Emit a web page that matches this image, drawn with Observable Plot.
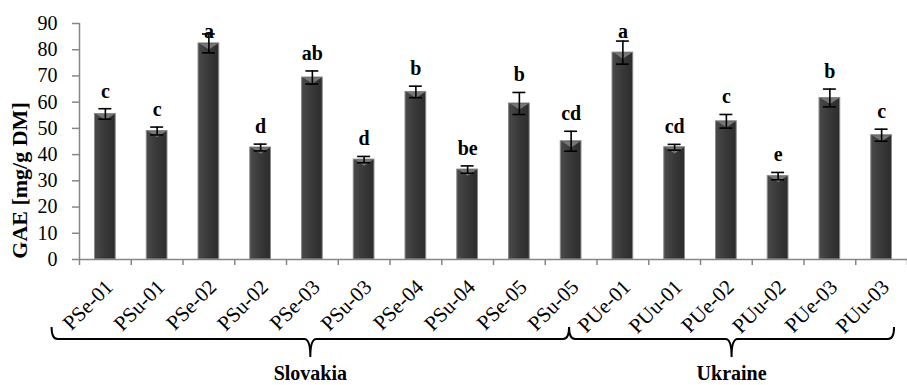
<!DOCTYPE html>
<html>
<head>
<meta charset="utf-8">
<script src="https://cdn.jsdelivr.net/npm/d3@7"></script>
<script src="https://cdn.jsdelivr.net/npm/@observablehq/plot@0.6"></script>
<style>
  html, body { margin: 0; padding: 0; background: #fff; }
  #chart { width: 907px; height: 385px; }
</style>
</head>
<body>
<div id="chart"></div>
<script>
const categories = ["PSe-01","PSu-01","PSe-02","PSu-02","PSe-03","PSu-03","PSe-04","PSu-04","PSe-05","PSu-05","PUe-01","PUu-01","PUe-02","PUu-02","PUe-03","PUu-03"];
const gae = [55.5, 49.0, 82.4, 42.7, 69.4, 38.1, 63.9, 34.3, 59.5, 45.1, 78.9, 42.8, 52.7, 31.8, 61.6, 47.4];
const sd = [2.0, 1.5, 3.6, 1.3, 2.5, 1.2, 2.2, 1.4, 4.2, 3.8, 4.4, 1.1, 2.6, 1.4, 3.4, 2.3];
const letters = ["c","c","a","d","ab","d","b","be","b","cd","a","cd","c","e","b","c"];
const groups = [
  {name: "Slovakia", from: 0, to: 9},
  {name: "Ukraine", from: 10, to: 15}
];
const yTicks = [0, 10, 20, 30, 40, 50, 60, 70, 80, 90];
const yTitle = "GAE [mg/g DM]";

const data = categories.map((c, i) => ({i, cat: c, v: gae[i], e: sd[i], letter: letters[i]}));
const idx = categories.map((_, i) => i);
const bounds = d3.range(categories.length + 1).map(i => i - 0.5);

const FONT = "'Liberation Serif', 'Times New Roman', serif";
const AXIS = "#868686";

const topSymbol = {
  draw(ctx, size) {
    const w = 2 * Math.sqrt(size / Math.PI);
    ctx.moveTo(-w / 2, 0);
    ctx.lineTo(w / 2, 0);
    ctx.lineTo(0, w * 0.33);
    ctx.closePath();
  }
};

const plot = Plot.plot({
  width: 907,
  height: 385,
  marginLeft: 79,
  marginRight: 0,
  marginTop: 23,
  marginBottom: 126,
  x: {domain: [-0.5, categories.length - 0.5], axis: null},
  y: {domain: [0, 90], axis: null},
  style: {fontFamily: FONT, background: "#fff", color: "#000", overflow: "visible"},
  marks: [
    Plot.rectY(data, {x1: d => d.i - 0.2, x2: d => d.i + 0.2, y1: 0, y2: "v", fill: "url(#barGrad)", stroke: "#8a8a8a", strokeWidth: 1}),
    Plot.dot(data, {x: "i", y: "v", symbol: topSymbol, r: 9.3, fill: "#767676", stroke: "none"}),
    Plot.ruleX(data, {x: "i", y1: d => d.v - d.e, y2: d => d.v + d.e, stroke: "#000", strokeWidth: 1.6}),
    Plot.ruleY(data, {x1: d => d.i - 0.125, x2: d => d.i + 0.125, y: d => d.v + d.e, stroke: "#000", strokeWidth: 1.6}),
    Plot.ruleY(data, {x1: d => d.i - 0.125, x2: d => d.i + 0.125, y: d => d.v - d.e, stroke: "#000", strokeWidth: 1.6}),
    Plot.text(data, {x: "i", y: d => Math.min(d.v + d.e, 80.2), text: "letter", dy: -11, lineAnchor: "bottom", fontSize: 20, fontWeight: "bold", fill: "#000"}),
    Plot.ruleY([0], {stroke: AXIS, strokeWidth: 1.5}),
    Plot.ruleX([-0.5], {stroke: AXIS, strokeWidth: 1.5}),
    Plot.axisY({ticks: yTicks, tickSize: 7, tickFormat: () => "", color: AXIS, strokeWidth: 1.5, label: null}),
    Plot.axisY({ticks: yTicks, tickSize: 0, tickPadding: 22, fontSize: 20, color: "#000", label: null}),
    Plot.axisX({ticks: bounds, tickSize: 6, tickFormat: () => "", color: AXIS, strokeWidth: 1.5, label: null}),
    Plot.axisX({ticks: idx, tickSize: 0, tickPadding: 6, tickRotate: -45, tickFormat: i => categories[i], fontSize: 21, dx: 4, dy: 18, color: "#000", label: null}),
    Plot.text([yTitle], {frameAnchor: "left", rotate: -90, dx: -60, dy: 39, fontSize: 22, fontWeight: "bold", fill: "#000", textAnchor: "middle"})
  ]
});

const svg = d3.select(plot);
svg.insert("defs", ":first-child").html(
  `<linearGradient id="barGrad" x1="0" x2="1" y1="0" y2="0">
     <stop offset="0" stop-color="#4a4a4a"/>
     <stop offset="0.45" stop-color="#3a3a3a"/>
     <stop offset="1" stop-color="#2c2c2c"/>
   </linearGradient>`
);

// category-group braces under the rotated labels
const xs = plot.scale("x");
const ys = plot.scale("y");
const step = xs.apply(1) - xs.apply(0);
const yBase = ys.apply(0);
const lineY = yBase + 80;
const hookY = lineY - 12;
const notchY = lineY + 18;
groups.forEach((g, k) => {
  const last = k === groups.length - 1;
  const left = xs.apply(g.from) - 1.03 * step;
  const right = last ? xs.apply(g.to) + 0.25 * step : xs.apply(g.to + 1) - 1.03 * step;
  const mid = (left + right) / 2;
  const p = d3.path();
  p.moveTo(left, hookY);
  p.quadraticCurveTo(left, lineY, left + 6, lineY);
  p.lineTo(mid - 6, lineY);
  p.quadraticCurveTo(mid, lineY, mid, notchY);
  p.quadraticCurveTo(mid, lineY, mid + 6, lineY);
  p.lineTo(right - 6, lineY);
  p.quadraticCurveTo(right, lineY, right, hookY);
  svg.append("path").attr("d", p.toString()).attr("fill", "none").attr("stroke", "#000").attr("stroke-width", 2);
  svg.append("text").attr("x", mid).attr("y", lineY + 41).attr("text-anchor", "middle")
    .attr("font-family", FONT).attr("font-weight", "bold").attr("font-size", 20).attr("fill", "#000").text(g.name);
});

document.getElementById("chart").appendChild(plot);
</script>
</body>
</html>
